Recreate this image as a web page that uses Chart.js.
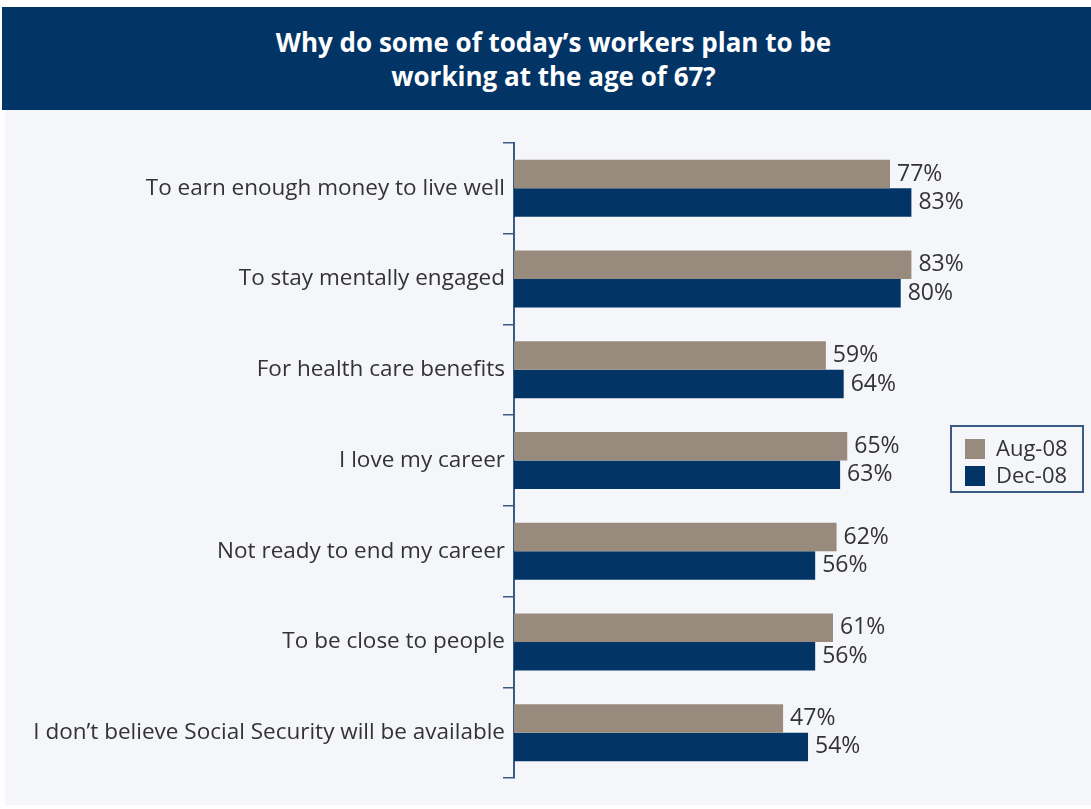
<!DOCTYPE html>
<html>
<head>
<meta charset="utf-8">
<script src="https://cdn.jsdelivr.net/npm/chart.js@4/dist/chart.umd.min.js"></script>
<style>
  body { margin: 0; background: #ffffff; width: 1091px; height: 809px; position: relative; overflow: hidden; }
  #banner {
    position: absolute; left: 2px; top: 7px; width: 1089px; height: 103px;
    background: #023466; color: #ffffff; text-align: center;
    font-family: "Open Sans", sans-serif; font-weight: bold; font-size: 26px; line-height: 34px;
    box-sizing: border-box; padding-top: 18px; padding-left: 14px;
  }
  #panel { position: absolute; left: 5px; top: 110px; width: 1086px; height: 695px; background: #f5f6fa; }
  #legend {
    position: absolute; left: 950px; top: 425px; width: 134px; height: 68px;
    border: 2px solid #3a5a86; box-sizing: border-box;
    font-family: "Open Sans", sans-serif; font-size: 22px; color: #333333;
  }
  .row { position: absolute; left: 13px; height: 26px; line-height: 26px; white-space: nowrap; }
  .sw { display: inline-block; width: 20px; height: 20px; vertical-align: -3px; margin-right: 11px; }
</style>
</head>
<body>
<div id="banner">Why do some of today’s workers plan to be<br>working at the age of 67?</div>
<div id="panel"><canvas id="chart" width="1086" height="695"></canvas></div>
<div id="legend">
  <div class="row" style="top:7px"><span class="sw" style="background:#988b7d"></span>Aug-08</div>
  <div class="row" style="top:34px"><span class="sw" style="background:#023466"></span>Dec-08</div>
</div>
<script>
const categories = [
    'To earn enough money to live well',
    'To stay mentally engaged',
    'For health care benefits',
    'I love my career',
    'Not ready to end my career',
    'To be close to people',
    'I don’t believe Social Security will be available'
];
const aug08 = [77, 83, 59, 65, 62, 61, 47];
const dec08 = [83, 80, 64, 63, 56, 56, 54];

// the original axis does not start at zero, bars run from the axis line
const axisStart = -28.5;

// draws the value labels just past each bar end
const valueLabels = {
    id: 'valueLabels',
    afterDatasetsDraw(chart) {
        const ctx = chart.ctx;
        ctx.save();
        ctx.font = '23px "Open Sans", sans-serif';
        ctx.fillStyle = '#333333';
        ctx.textBaseline = 'middle';
        ctx.textAlign = 'left';
        chart.data.datasets.forEach((ds, i) => {
            chart.getDatasetMeta(i).data.forEach((bar, j) => {
                ctx.fillText(ds.data[j] + '%', bar.x + 7, bar.y);
            });
        });
        ctx.restore();
    }
};

new Chart(document.getElementById('chart'), {
    type: 'bar',
    data: {
        labels: categories,
        datasets: [
            { label: 'Aug-08', data: aug08, base: axisStart, backgroundColor: '#988b7d', categoryPercentage: 0.628, barPercentage: 1.0 },
            { label: 'Dec-08', data: dec08, base: axisStart, backgroundColor: '#023466', categoryPercentage: 0.628, barPercentage: 1.0 }
        ]
    },
    options: {
        indexAxis: 'y',
        responsive: false,
        animation: false,
        layout: { padding: { top: 33, bottom: 27, right: 119, left: 0 } },
        plugins: { legend: { display: false }, tooltip: { enabled: false } },
        scales: {
            x: { display: false, min: axisStart, max: 100 },
            y: {
                afterFit(scale) { scale.width = 509; },
                border: { display: true, color: '#3a5a86', width: 2 },
                grid: { offset: true, drawOnChartArea: false, tickLength: 11, color: '#3a5a86', lineWidth: 1.5 },
                ticks: { padding: -2, color: '#333333', font: { family: 'Open Sans', size: 22.5 } }
            }
        }
    },
    plugins: [valueLabels]
});
</script>
</body>
</html>
